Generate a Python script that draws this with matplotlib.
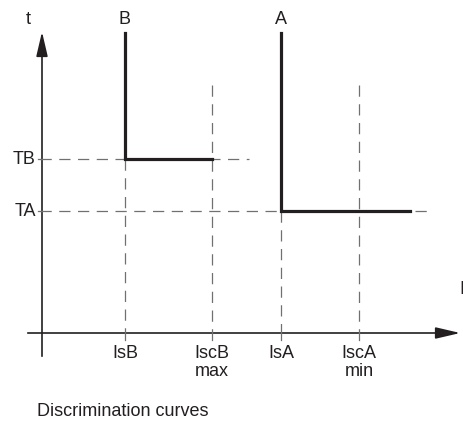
import matplotlib.pyplot as plt

plt.rcParams['font.family'] = ['Liberation Sans', 'DejaVu Sans']

# current positions on the I axis (chart units, origin at axis crossing)
tick_names = ["IsB", "IscB\nmax", "IsA", "IscA\nmin"]
tick_pos = [83, 170, 239, 317]

# time levels
TB = 174
TA = 122
t_top = 300

# curves: (setting current, time level, end current)
curve_B_x = [83, 83, 170]
curve_B_y = [t_top, TB, TB]
curve_A_x = [239, 239, 368]
curve_A_y = [t_top, TA, TA]

fig = plt.figure(figsize=(4.64, 4.21), dpi=100)
ax = fig.add_axes([0, 0, 1, 1])
ax.set_xlim(-42, 422)
ax.set_ylim(-88, 333)
ax.axis('off')

dark = '#231f20'
grey = '#707070'
dash = (0, (9, 6))

# axes with arrows
ax.plot([0, 0], [-23, 285], color=dark, lw=1.2)
ax.annotate('', xy=(0, 304), xytext=(0, 280),
            arrowprops=dict(arrowstyle='-|>,head_length=1.5,head_width=0.35',
                            color=dark, lw=1.2))
ax.plot([-14, 400], [0, 0], color=dark, lw=1.2)
ax.annotate('', xy=(421, 0), xytext=(397, 0),
            arrowprops=dict(arrowstyle='-|>,head_length=1.5,head_width=0.35',
                            color=dark, lw=1.2))

# dashed guides
ax.plot([-2, 207], [TB, TB], color=grey, lw=0.9, ls=dash)
ax.plot([-2, 385], [TA, TA], color=grey, lw=0.9, ls=dash)
ax.plot([tick_pos[0], tick_pos[0]], [TB, 0], color=grey, lw=0.9, ls=dash)
ax.plot([tick_pos[1], tick_pos[1]], [248, 0], color=grey, lw=0.9, ls=dash)
ax.plot([tick_pos[2], tick_pos[2]], [TA, 0], color=grey, lw=0.9, ls=dash)
ax.plot([tick_pos[3], tick_pos[3]], [248, 0], color=grey, lw=0.9, ls=dash)

# tick marks below the axis
for x in tick_pos:
    ax.plot([x, x], [0, -7], color=grey, lw=0.9)
ax.plot([-4, 0], [TB, TB], color=grey, lw=0.9)
ax.plot([-4, 0], [TA, TA], color=grey, lw=0.9)

# curves
ax.plot(curve_B_x, curve_B_y, color=dark, lw=2.3, solid_joinstyle='miter')
ax.plot(curve_A_x, curve_A_y, color=dark, lw=2.3, solid_joinstyle='miter')

fs = 13
for name, x in zip(tick_names, tick_pos):
    ax.text(x, -12, name, ha='center', va='top', fontsize=fs, color=dark,
            linespacing=1.1)
ax.text(-6, TB, 'TB', ha='right', va='center', fontsize=fs, color=dark)
ax.text(-6, TA, 'TA', ha='right', va='center', fontsize=fs, color=dark)
ax.text(-14, 313, 't', ha='center', va='center', fontsize=fs, color=dark)
ax.text(420, 43, 'I', ha='center', va='center', fontsize=fs, color=dark)
ax.text(83, 314, 'B', ha='center', va='center', fontsize=fs, color=dark)
ax.text(239, 314, 'A', ha='center', va='center', fontsize=fs, color=dark)
ax.text(-5, -78, 'Discrimination curves', ha='left', va='center',
        fontsize=fs, color=dark)

fig.savefig('out.png', dpi=100)
